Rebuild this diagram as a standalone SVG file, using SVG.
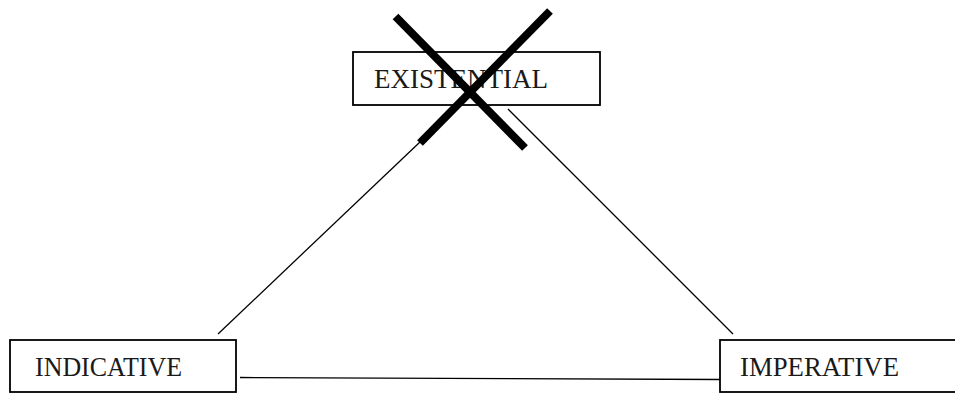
<svg xmlns="http://www.w3.org/2000/svg" width="955" height="394" viewBox="0 0 955 394">
  <style>
    .box { fill: #ffffff; stroke: #000000; stroke-width: 1.8; }
    .label { font-family: "Liberation Serif", "Times New Roman", serif; font-size: 27px; fill: #1a1a1a; }
    .conn { stroke: #000000; stroke-width: 1.3; fill: none; }
    .cross { stroke: #000000; stroke-width: 8; stroke-linecap: butt; fill: none; }
  </style>
  <rect width="955" height="394" fill="#ffffff"/>
  <g id="connectors">
    <line class="conn" x1="218" y1="334" x2="420" y2="142"/>
    <line class="conn" x1="508" y1="109" x2="733" y2="334"/>
    <line class="conn" x1="240" y1="377.5" x2="720" y2="379.5"/>
  </g>
  <g id="existential">
    <rect class="box" x="353" y="52" width="247" height="53"/>
    <text class="label" x="374" y="88" textLength="174" lengthAdjust="spacingAndGlyphs">EXISTENTIAL</text>
  </g>
  <g id="indicative">
    <rect class="box" x="10" y="340" width="226" height="52"/>
    <text class="label" x="35" y="376" textLength="147" lengthAdjust="spacingAndGlyphs">INDICATIVE</text>
  </g>
  <g id="imperative">
    <rect class="box" x="720" y="340" width="245" height="52"/>
    <text class="label" x="740" y="376" textLength="159" lengthAdjust="spacingAndGlyphs">IMPERATIVE</text>
  </g>
  <g id="cross-out">
    <line class="cross" x1="395.5" y1="16.5" x2="525" y2="148"/>
    <line class="cross" x1="550" y1="11" x2="420" y2="143"/>
  </g>
</svg>
